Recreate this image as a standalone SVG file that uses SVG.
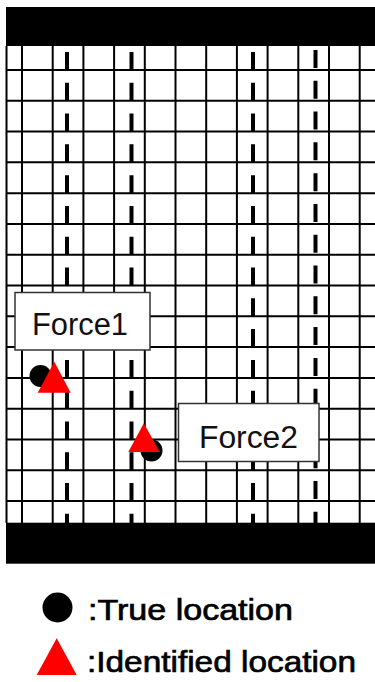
<svg xmlns="http://www.w3.org/2000/svg" width="375" height="682" viewBox="0 0 375 682">
<style>
.grid line{stroke:#000;stroke-width:2}
.dash{stroke:#000;stroke-width:4;stroke-dasharray:18 12.79}
.bar{fill:#000}
.box{fill:#fff;stroke:#333;stroke-width:1.5}
.lbl{font-family:"Liberation Sans",Arial,sans-serif;font-size:31px;fill:#111}
.leg{font-family:"Liberation Sans",Arial,sans-serif;font-size:30px;fill:#000;stroke:#000;stroke-width:0.7}
.tru{fill:#000}
.idf{fill:#ff0000}
</style>
<rect width="375" height="682" fill="#fff"/>
<g id="grid" class="grid">
<line x1="6.5" y1="46" x2="6.5" y2="523"/>
<line x1="22" y1="46" x2="22" y2="523"/>
<line x1="52.7" y1="46" x2="52.7" y2="523"/>
<line x1="83.4" y1="46" x2="83.4" y2="523"/>
<line x1="114.1" y1="46" x2="114.1" y2="523"/>
<line x1="144.8" y1="46" x2="144.8" y2="523"/>
<line x1="175.5" y1="46" x2="175.5" y2="523"/>
<line x1="206.2" y1="46" x2="206.2" y2="523"/>
<line x1="236.9" y1="46" x2="236.9" y2="523"/>
<line x1="267.6" y1="46" x2="267.6" y2="523"/>
<line x1="298.3" y1="46" x2="298.3" y2="523"/>
<line x1="329" y1="46" x2="329" y2="523"/>
<line x1="359.7" y1="46" x2="359.7" y2="523"/>
<line x1="6" y1="70" x2="375" y2="70"/>
<line x1="6" y1="100.79" x2="375" y2="100.79"/>
<line x1="6" y1="131.58" x2="375" y2="131.58"/>
<line x1="6" y1="162.37" x2="375" y2="162.37"/>
<line x1="6" y1="193.16" x2="375" y2="193.16"/>
<line x1="6" y1="223.95" x2="375" y2="223.95"/>
<line x1="6" y1="254.74" x2="375" y2="254.74"/>
<line x1="6" y1="285.53" x2="375" y2="285.53"/>
<line x1="6" y1="316.32" x2="375" y2="316.32"/>
<line x1="6" y1="347.11" x2="375" y2="347.11"/>
<line x1="6" y1="377.9" x2="375" y2="377.9"/>
<line x1="6" y1="408.69" x2="375" y2="408.69"/>
<line x1="6" y1="439.48" x2="375" y2="439.48"/>
<line x1="6" y1="470.27" x2="375" y2="470.27"/>
<line x1="6" y1="501.06" x2="375" y2="501.06"/>
</g>
<g id="lanes">
<line class="dash" x1="67" y1="52" x2="67" y2="523"/>
<line class="dash" x1="131.5" y1="52" x2="131.5" y2="523"/>
<line class="dash" x1="253" y1="52" x2="253" y2="523"/>
<line class="dash" x1="315.5" y1="50" x2="315.5" y2="523"/>
</g>
<g id="bars">
<rect class="bar" x="6" y="7" width="369" height="39"/>
<rect class="bar" x="6" y="522.7" width="369" height="41"/>
</g>
<g id="connectors"></g>
<g id="force1">
<rect class="box" x="15" y="292.5" width="135" height="57.5"/>
<text class="lbl" x="32" y="335" textLength="96" lengthAdjust="spacingAndGlyphs">Force1</text>
</g>
<g id="force2">
<rect class="box" x="178.5" y="403.5" width="140.5" height="58"/>
<text class="lbl" x="199" y="448" textLength="99" lengthAdjust="spacingAndGlyphs">Force2</text>
</g>
<g id="points1">
<circle class="tru" cx="40.5" cy="376" r="11"/>
<polygon class="idf" points="54.3,361.7 37.7,392.7 70.7,392.7"/>
</g>
<g id="points2">
<circle class="tru" cx="151.5" cy="450.5" r="11"/>
<polygon class="idf" points="143.8,423.3 128.3,452 159.7,452"/>
</g>
<g id="legend">
<circle class="tru" cx="57.5" cy="607.5" r="15"/>
<text class="leg" x="88" y="620" textLength="205" lengthAdjust="spacingAndGlyphs">:True location</text>
<polygon class="idf" points="56.7,638.3 36.7,675 76.7,675"/>
<text class="leg" x="87" y="672" textLength="269" lengthAdjust="spacingAndGlyphs">:Identified location</text>
</g>
</svg>
